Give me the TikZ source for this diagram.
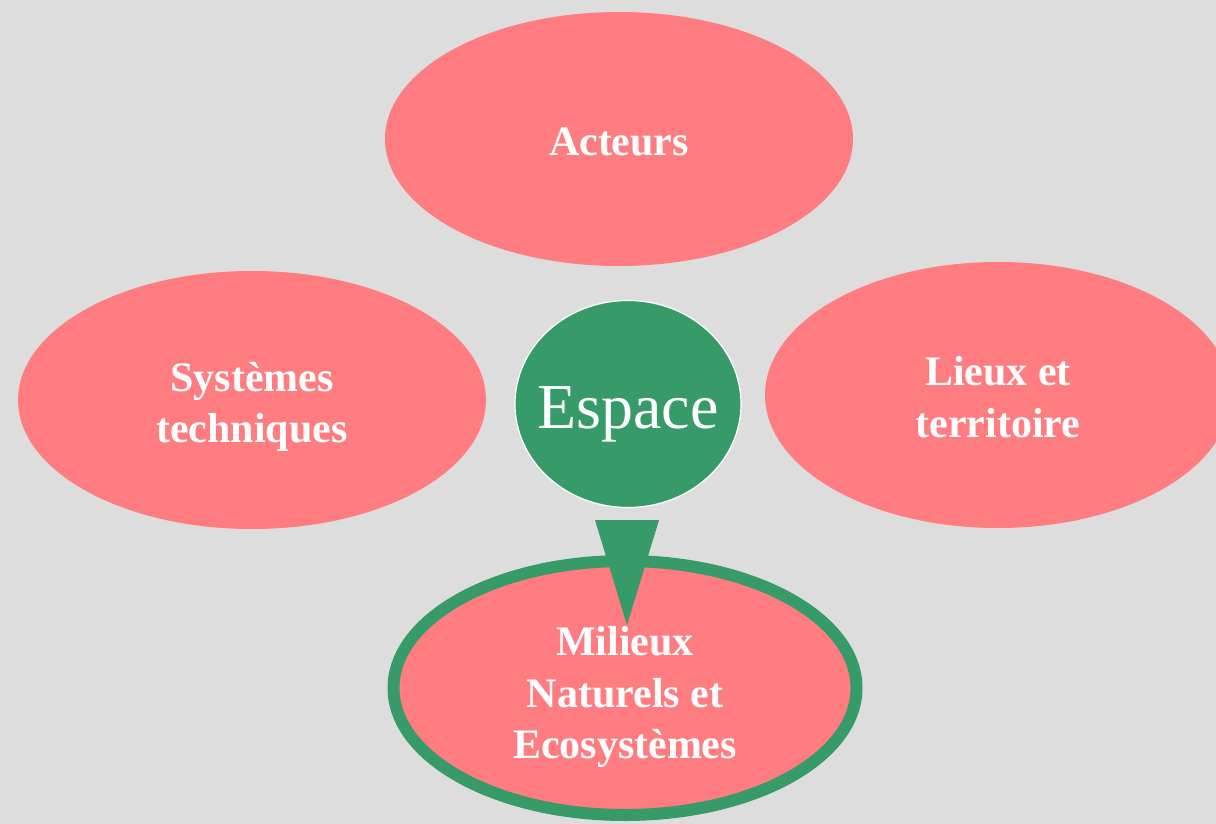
\documentclass[tikz,border=0pt]{standalone}
\usepackage{fontspec}
\setmainfont{Liberation Serif}
\usetikzlibrary{shapes.geometric,calc}
\definecolor{bg}{HTML}{DDDDDD}
\definecolor{pink}{HTML}{FF7C80}
\definecolor{grn}{HTML}{379A69}
\tikzset{
  oval/.style={ellipse, fill=pink, inner sep=0pt},
  txt/.style={text=white, align=center, inner sep=0pt,
    font=\fontsize{42}{51.5}\selectfont\bfseries},
}
\begin{document}
\begin{tikzpicture}[x=1pt,y=-1pt]
\fill[bg] (0,0) rectangle (1216,824);
\useasboundingbox (0,0) rectangle (1216,824);
\clip (0,0) rectangle (1216,824);
\node[oval, minimum width=468, minimum height=254,
  label={[txt, yshift=-3pt]center:Acteurs}] (act) at (619,139) {};
\node[oval, minimum width=468, minimum height=258,
  label={[txt, yshift=-7pt]center:Systèmes\\techniques}] (sys) at (252,400) {};
\node[oval, minimum width=466, minimum height=266,
  label={[txt, yshift=-2pt]center:Lieux et\\territoire}] (lieu) at (998,395) {};
\node[oval, draw=grn, line width=12pt, minimum width=463, minimum height=254,
  label={[txt, yshift=-9pt]center:Milieux\\Naturels et\\Ecosystèmes}] (mil) at (625,688) {};
\node[ellipse, fill=grn, draw=white, line width=1.2pt, inner sep=0pt,
  minimum width=226, minimum height=207,
  label={[text=white, inner sep=0pt, font=\fontsize{64}{70}\selectfont, yshift=-10pt]center:Espace}] (esp) at (628,404) {};
\coordinate (tl) at ($(esp.south)+(-33,12)$);
\coordinate (tr) at ($(esp.south)+(31,12)$);
\coordinate (tip) at ($(mil.north)+(2,70)$);
\fill[grn] (tl) -- (tr) -- (tip) -- cycle;
\end{tikzpicture}
\end{document}
